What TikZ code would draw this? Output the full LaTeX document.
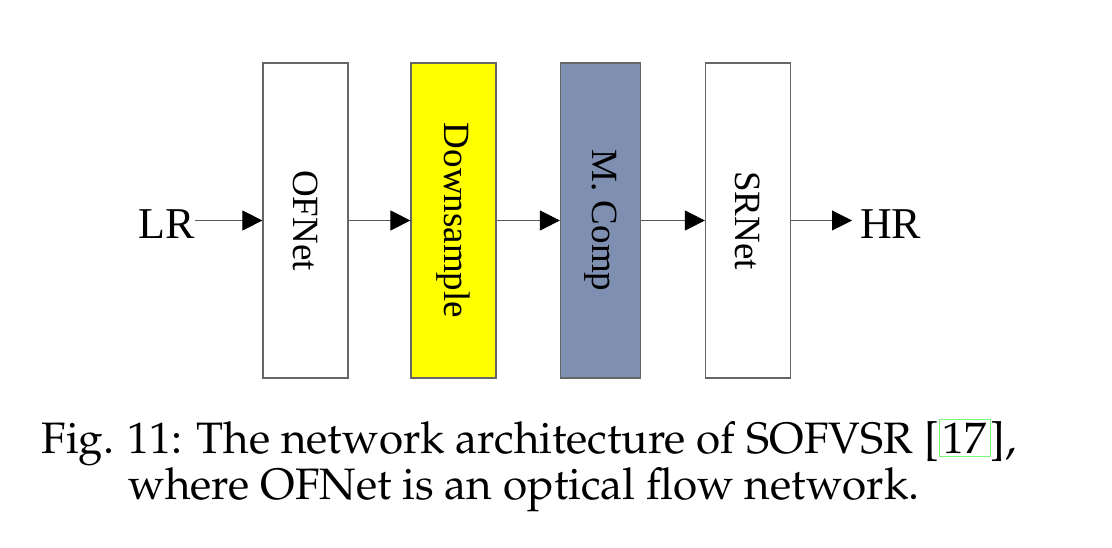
\documentclass[tikz,border=0pt]{standalone}
\usepackage[T1,TU]{fontenc}
\usepackage{fontspec}
\setmainfont{Liberation Serif}
\usetikzlibrary{arrows.meta}
\definecolor{dsyellow}{RGB}{255,255,0}
\definecolor{mcompblue}{RGB}{127,143,177}
\definecolor{linkgreen}{RGB}{120,250,120}
\newcommand{\palfont}{\fontencoding{T1}\fontfamily{ppl}\selectfont}
\begin{document}
\begin{tikzpicture}[x=1pt,y=-1pt,
  block/.style={draw=black!60,line width=1.2pt,minimum width=85pt,minimum height=315pt,inner sep=0pt,font=\fontsize{37}{40}\selectfont},
  flow/.style={draw=black!65,line width=1pt,-{Triangle[length=20pt,width=20pt,color=black]}},
  io/.style={inner sep=0pt,font=\fontsize{44}{48}\selectfont},
  captext/.style={inner sep=0pt,anchor=base,font=\fontsize{44}{48}\palfont}]
\useasboundingbox (0,0) rectangle (1112,548);
% Bloecke
\node[block] (ofnet) at (305.5,220.5) {\rotatebox{-90}{OFNet}};
\node[block,fill=dsyellow] (down) at (453.5,220.5) {\rotatebox{-90}{Downsample}};
\node[block,fill=mcompblue,minimum width=80pt] (mcomp) at (600.5,220.5) {\rotatebox{-90}{M. Comp}};
\node[block] (srnet) at (748,220.5) {\rotatebox{-90}{SRNet}};
% Ein- und Ausgang
\node[io,anchor=east] (lr) at (195,224) {LR};
\node[io,anchor=west] (hr) at (860,224) {HR};
\coordinate (hrin) at (852,220.5);
% Pfeile
\draw[flow] (lr.east |- ofnet.west) -- (ofnet.west);
\draw[flow] (ofnet) -- (down);
\draw[flow] (down) -- (mcomp);
\draw[flow] (mcomp) -- (srnet);
\draw[flow] (srnet.east) -- (hrin);
% Bildunterschrift
\node[captext] (cap1) at (529,453) {Fig. 11: The network architecture of SOFVSR [{\setlength{\fboxsep}{3pt}\setlength{\fboxrule}{1pt}\fcolorbox{linkgreen}{white}{17}}],};
\node[captext] (cap2) at (524,499) {where OFNet is an optical flow network.};
\end{tikzpicture}
\end{document}
